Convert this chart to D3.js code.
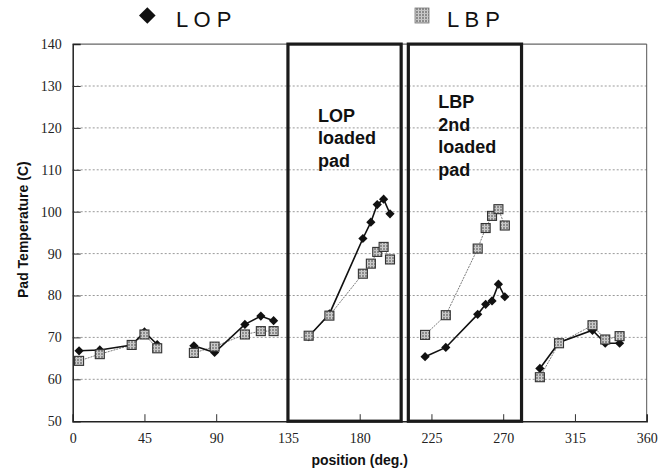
<!DOCTYPE html>
<html><head><meta charset="utf-8">
<script src="https://cdn.jsdelivr.net/npm/d3@7"></script>
<style>body{margin:0;background:#fff}svg{display:block}</style>
</head><body>
<svg id="c" width="668" height="476"></svg>
<script>
// ---- data ----
const positions = [4,17,37,45,53, 76,89,108,118,126, 148,161,182,187,191,195,199, 221,234,254,259,263,267,271, 293,305,326,334,343];
const groups    = [1,1,1,1,1, 2,2,2,2,2, 3,3,3,3,3,3,3, 4,4,4,4,4,4,4, 5,5,5,5,5];
const lopValues = [66.8,67.0,68.2,71.3,68.3, 68.0,66.4,73.1,75.1,74.0, 70.2,75.6,93.6,97.5,101.7,103.0,99.5, 65.4,67.6,75.5,77.9,78.7,82.7,79.7, 62.6,68.8,71.7,68.6,68.6];
const lbpValues = [64.4,66.0,68.2,70.7,67.4, 66.3,67.8,70.7,71.5,71.5, 70.4,75.2,85.2,87.6,90.4,91.6,88.6, 70.6,75.3,91.2,96.1,99.0,100.6,96.7, 60.5,68.6,72.9,69.5,70.3];
const xTicks = [0,45,90,135,180,225,270,315,360];
const yTicks = [50,60,70,80,90,100,110,120,130,140];
const seriesNames = ["L O P", "L B P"];
const boxStarts = [135, 210.5];
const boxEnds = [206, 281.5];
const boxLabels = [["LOP","loaded","pad"],["LBP","2nd","loaded","pad"]];

// ---- layout ----
const svg = d3.select("#c");
const x = d3.scaleLinear().domain([0,360]).range([72.7,646.7]);
const y = d3.scaleLinear().domain([50,140]).range([421.2,44.1]);

const defs = svg.append("defs");
const pat = defs.append("pattern").attr("id","hatch").attr("patternUnits","userSpaceOnUse")
  .attr("width",3).attr("height",3);
pat.append("rect").attr("width",3).attr("height",3).attr("fill","#8c8c8c");
pat.append("rect").attr("x",1).attr("y",0).attr("width",1).attr("height",3).attr("fill","#d0d0d0");
pat.append("rect").attr("x",0).attr("y",1).attr("width",3).attr("height",1).attr("fill","#c4c4c4");

// gridlines
svg.append("g").selectAll("line").data(yTicks.filter(v=>v>50&&v<140)).join("line")
  .attr("x1",x(0)).attr("x2",x(360)).attr("y1",d=>y(d)).attr("y2",d=>y(d))
  .attr("stroke","#9a9a9a").attr("stroke-width",1).attr("stroke-dasharray","2,2");
// top and right frame
svg.append("line").attr("x1",x(0)).attr("x2",x(360)).attr("y1",y(140)).attr("y2",y(140))
  .attr("stroke","#666").attr("stroke-width",1.2);
svg.append("line").attr("x1",x(360)).attr("x2",x(360)).attr("y1",y(140)).attr("y2",y(50))
  .attr("stroke","#555").attr("stroke-width",1);

// axes
const serif = "'Liberation Serif', 'DejaVu Serif', serif";
const yAxis = d3.axisLeft(y).tickValues(yTicks).tickSize(-8).tickPadding(11).tickFormat(d3.format("d"));
const gy = svg.append("g").attr("transform",`translate(${x(0)},0)`).call(yAxis);
const xAxis = d3.axisBottom(x).tickValues(xTicks).tickSize(-7).tickPadding(12).tickFormat(d3.format("d"));
const gx = svg.append("g").attr("transform",`translate(0,${y(50)})`).call(xAxis);
[gx,gy].forEach(g=>{
  g.attr("font-family", serif).attr("font-size", 14);
  g.select(".domain").attr("stroke","#222").attr("stroke-width",1.5);
  g.selectAll(".tick line").attr("stroke","#333");
  g.selectAll("text").attr("fill","#222");
});
gy.selectAll(".tick").filter(d=>d===50||d===140).select("line").remove();
gx.selectAll(".tick").filter(d=>d===0||d===360).select("line").remove();

// boxes
svg.append("g").selectAll("rect").data(boxStarts).join("rect")
  .attr("x",(d)=>x(d)).attr("y",y(140))
  .attr("width",(d,i)=>x(boxEnds[i])-x(d)).attr("height",y(50)-y(140))
  .attr("fill","none").attr("stroke","#1a1a1a").attr("stroke-width",3.2);

// box labels
const lblTop = [121.7, 108.3];
boxLabels.forEach((lines,i)=>{
  const t = svg.append("text").attr("x",x(boxStarts[i])+30).attr("y",lblTop[i])
    .attr("font-family","'Liberation Sans', Arial, sans-serif").attr("font-weight","bold")
    .attr("font-size",18).attr("fill","#111");
  lines.forEach((s,k)=>t.append("tspan").attr("x",x(boxStarts[i])+30).attr("dy",k===0?0:22.4).text(s));
});

// lines
const idx = d3.range(positions.length);
function drawLine(vals, stroke, width, dash){
  d3.groups(idx, i=>groups[i]).forEach(([g, ids])=>{
    svg.append("path").datum(ids)
      .attr("d", d3.line().x(i=>x(positions[i])).y(i=>y(vals[i])))
      .attr("fill","none").attr("stroke",stroke).attr("stroke-width",width)
      .attr("stroke-dasharray",dash);
  });
}
drawLine(lbpValues, "#7a7a7a", 1, "2,1");
drawLine(lopValues, "#111", 1.6, null);

// markers
const diamond = r => `M0,${-r}L${r},0L0,${r}L${-r},0Z`;
svg.append("g").selectAll("path").data(idx).join("path")
  .attr("d", diamond(4.6))
  .attr("transform", i=>`translate(${x(positions[i])},${y(lopValues[i])})`)
  .attr("fill","#111");
svg.append("g").selectAll("rect").data(idx).join("rect")
  .attr("x", i=>x(positions[i])-4.5).attr("y", i=>y(lbpValues[i])-4.5)
  .attr("width",9).attr("height",9)
  .attr("fill","url(#hatch)").attr("stroke","#333").attr("stroke-width",1.1);

// legend
svg.append("path").attr("d",diamond(8.3)).attr("transform","translate(147.3,15.5)").attr("fill","#111");
svg.append("text").attr("x",176).attr("y",27).text(seriesNames[0])
  .attr("font-family","'Liberation Sans', Arial, sans-serif").attr("font-size",22).attr("fill","#111");
svg.append("rect").attr("x",415).attr("y",8).attr("width",14).attr("height",15)
  .attr("fill","url(#hatch)").attr("stroke","#777").attr("stroke-width",0.8);
svg.append("text").attr("x",447).attr("y",27).text(seriesNames[1])
  .attr("font-family","'Liberation Sans', Arial, sans-serif").attr("font-size",22).attr("fill","#111");

// axis titles
svg.append("text").attr("x",(x(0)+x(360))/2).attr("y",465).attr("text-anchor","middle")
  .attr("font-family","'Liberation Sans', Arial, sans-serif").attr("font-weight","bold").attr("font-size",14)
  .attr("fill","#111").text("position (deg.)");
svg.append("text").attr("transform",`translate(28,${(y(50)+y(140))/2 - 3}) rotate(-90)`).attr("text-anchor","middle")
  .attr("font-family","'Liberation Sans', Arial, sans-serif").attr("font-weight","bold").attr("font-size",14)
  .attr("fill","#111").text("Pad Temperature (C)");
</script>
</body></html>
